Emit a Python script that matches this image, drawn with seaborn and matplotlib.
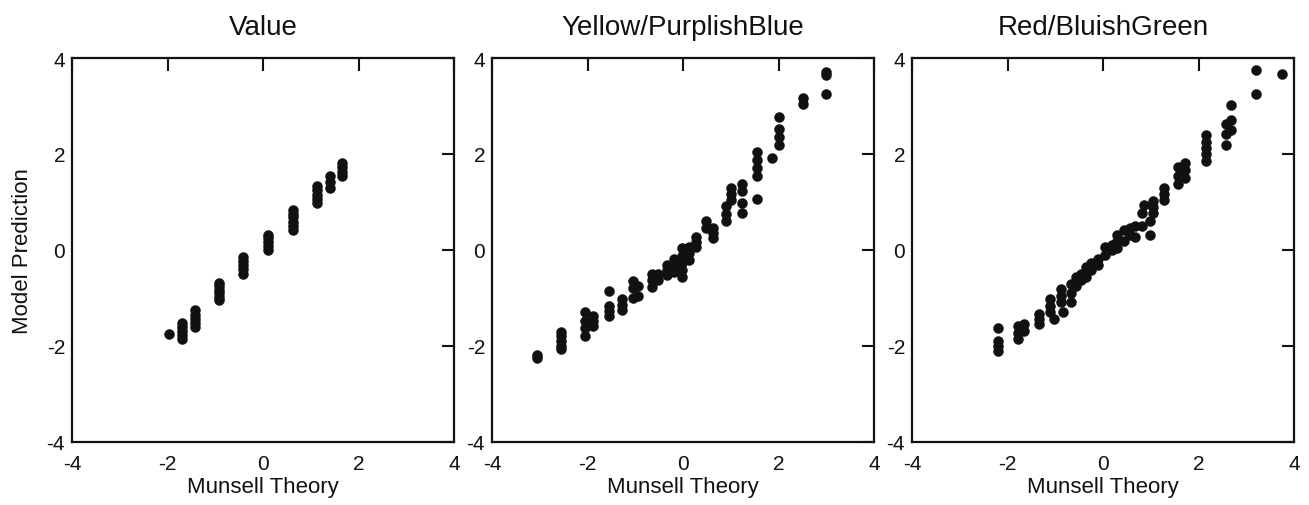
import numpy as np
import pandas as pd
import seaborn as sns
import matplotlib
matplotlib.use("Agg")
import matplotlib.pyplot as plt

### data ###

titles = ['Value', 'Yellow/PurplishBlue', 'Red/BluishGreen']

# Value
value_x = [-1.96,
           -1.69, -1.69, -1.69, -1.69, -1.69,
           -1.43, -1.43, -1.43, -1.43, -1.43,
           -0.92, -0.92, -0.92, -0.92, -0.92, -0.92,
           -0.42, -0.42, -0.42, -0.42, -0.42,
           0.11, 0.11, 0.11, 0.11, 0.11,
           0.62, 0.62, 0.62, 0.62, 0.62, 0.62,
           1.14, 1.14, 1.14, 1.14, 1.14,
           1.40, 1.40, 1.40,
           1.65, 1.65, 1.65, 1.65]
value_y = [-1.74,
           -1.53, -1.61, -1.69, -1.78, -1.86,
           -1.26, -1.35, -1.44, -1.52, -1.61,
           -0.69, -0.76, -0.83, -0.90, -0.97, -1.05,
           -0.14, -0.23, -0.32, -0.40, -0.49,
           0.32, 0.24, 0.16, 0.08, 0.00,
           0.84, 0.76, 0.68, 0.59, 0.50, 0.42,
           1.33, 1.24, 1.15, 1.07, 0.98,
           1.54, 1.42, 1.30,
           1.82, 1.73, 1.63, 1.54]

# Yellow/PurplishBlue
yb_x = [-3.05, -3.05,
        -2.55, -2.55, -2.55, -2.55, -2.55,
        -2.05, -2.05, -2.05, -2.05,
        -1.89, -1.89, -1.89,
        -1.54, -1.54, -1.54, -1.54,
        -1.28, -1.28, -1.28,
        -1.04, -1.04, -1.04,
        -0.95, -0.95,
        -0.65, -0.65, -0.65,
        -0.53, -0.53,
        -0.34, -0.34, -0.34,
        -0.18, -0.18, -0.18,
        -0.02, -0.02, -0.02, -0.02, -0.02,
        0.13, 0.13, 0.13,
        0.28, 0.28, 0.28,
        0.48, 0.48,
        0.62, 0.62, 0.62,
        0.91, 0.91, 0.91,
        1.00, 1.00, 1.00,
        1.23, 1.23, 1.23, 1.23,
        1.54, 1.54, 1.54, 1.54, 1.54,
        1.86,
        2.00, 2.00, 2.00, 2.00,
        2.51, 2.51,
        3.00, 3.00, 3.00]
yb_y = [-2.18, -2.24,
        -1.70, -1.80, -1.90, -2.00, -2.06,
        -1.30, -1.47, -1.63, -1.79,
        -1.37, -1.47, -1.58,
        -0.86, -1.16, -1.27, -1.37,
        -1.02, -1.14, -1.26,
        -0.65, -0.80, -1.00,
        -0.76, -0.96,
        -0.50, -0.63, -0.77,
        -0.49, -0.62,
        -0.32, -0.42, -0.53,
        -0.18, -0.32, -0.46,
        0.04, -0.12, -0.28, -0.42, -0.56,
        0.07, -0.07, -0.21,
        0.27, 0.17, 0.07,
        0.60, 0.45,
        0.46, 0.36, 0.25,
        0.91, 0.75, 0.60,
        1.30, 1.17, 1.05,
        1.37, 1.23, 0.98, 0.77,
        2.04, 1.88, 1.71, 1.54, 1.07,
        1.91,
        2.77, 2.53, 2.35, 2.18,
        3.16, 3.05,
        3.71, 3.65, 3.24]

# Red/BluishGreen
rg_x = [-2.19, -2.19, -2.19, -2.19,
        -1.78, -1.78, -1.78,
        -1.65, -1.65,
        -1.33, -1.33, -1.33,
        -1.11, -1.11, -1.11,
        -1.02,
        -0.89, -0.89, -0.89,
        -0.84,
        -0.68, -0.68, -0.68,
        -0.56, -0.56,
        -0.46, -0.46,
        -0.36, -0.36,
        -0.25, -0.25,
        -0.11, -0.11,
        0.04, 0.04,
        0.18, 0.18,
        0.30, 0.30, 0.30,
        0.44, 0.44,
        0.56, 0.56,
        0.67, 0.67,
        0.81, 0.81,
        0.86,
        0.98, 0.98,
        1.05, 1.05, 1.05,
        1.28, 1.28, 1.28,
        1.58, 1.58, 1.58,
        1.72, 1.72, 1.72,
        2.15, 2.15, 2.15, 2.15, 2.15,
        2.58, 2.58, 2.58,
        2.68, 2.68, 2.68,
        3.21, 3.21,
        3.75]
rg_y = [-1.63, -1.89, -2.00, -2.11,
        -1.58, -1.72, -1.86,
        -1.54, -1.68,
        -1.33, -1.44, -1.54,
        -1.02, -1.16, -1.30,
        -1.44,
        -0.81, -0.95, -1.09,
        -1.30,
        -0.70, -0.90, -1.09,
        -0.56, -0.74,
        -0.49, -0.63,
        -0.35, -0.56,
        -0.28, -0.42,
        -0.18, -0.32,
        0.07, -0.11,
        0.10, 0.00,
        0.32, 0.18, 0.04,
        0.42, 0.18,
        0.46, 0.32,
        0.49, 0.28,
        0.77, 0.49,
        0.93,
        0.60, 0.32,
        1.02, 0.90, 0.77,
        1.30, 1.17, 1.05,
        1.72, 1.55, 1.37,
        1.82, 1.66, 1.51,
        2.39, 2.25, 2.12, 1.99, 1.86,
        2.63, 2.42, 2.18,
        3.02, 2.70, 2.49,
        3.75, 3.26,
        3.66]

panel_x = [value_x, yb_x, rg_x]
panel_y = [value_y, yb_y, rg_y]

### plot ###

sns.set_style("white")
plt.rcParams['font.family'] = ['Liberation Sans', 'DejaVu Sans']

fig = plt.figure(figsize=(13.09, 5.06), dpi=100)

# axes boxes in pixels: left, width
lefts = [72, 492, 912]
width = 382
top, bottom = 59, 443
W, H = 1309, 506

for i in range(3):
    ax = fig.add_axes([lefts[i] / W, 1 - bottom / H, width / W, (bottom - top) / H])
    df = pd.DataFrame({'x': panel_x[i], 'y': panel_y[i]})
    sns.scatterplot(data=df, x='x', y='y', ax=ax, color='#111111',
                    s=52, edgecolor='#111111', linewidth=0.3)
    ax.set_xlim(-4, 4)
    ax.set_ylim(-4, 4)
    ax.set_xticks([-4, -2, 0, 2, 4])
    ax.set_yticks([-4, -2, 0, 2, 4])
    ax.set_xticklabels(['-4', '-2', '0', '2', '4'])
    ax.set_yticklabels(['-4', '-2', '0', '2', '4'])
    ax.tick_params(direction='in', length=9, width=1.5, top=True, right=True,
                   labelsize=15, colors='#111111')
    ax.tick_params(axis='x', pad=9)
    ax.tick_params(axis='y', pad=5)
    for sp in ax.spines.values():
        sp.set_linewidth(1.6)
        sp.set_color('#111111')
    ax.set_title(titles[i], fontsize=20, pad=17, color='#111111')
    ax.set_xlabel('Munsell Theory', fontsize=16, color='#111111', labelpad=2)
    if i == 0:
        ax.set_ylabel('Model Prediction', fontsize=16, color='#111111', labelpad=10)
    else:
        ax.set_ylabel('')

fig.savefig('out.png', dpi=100)
